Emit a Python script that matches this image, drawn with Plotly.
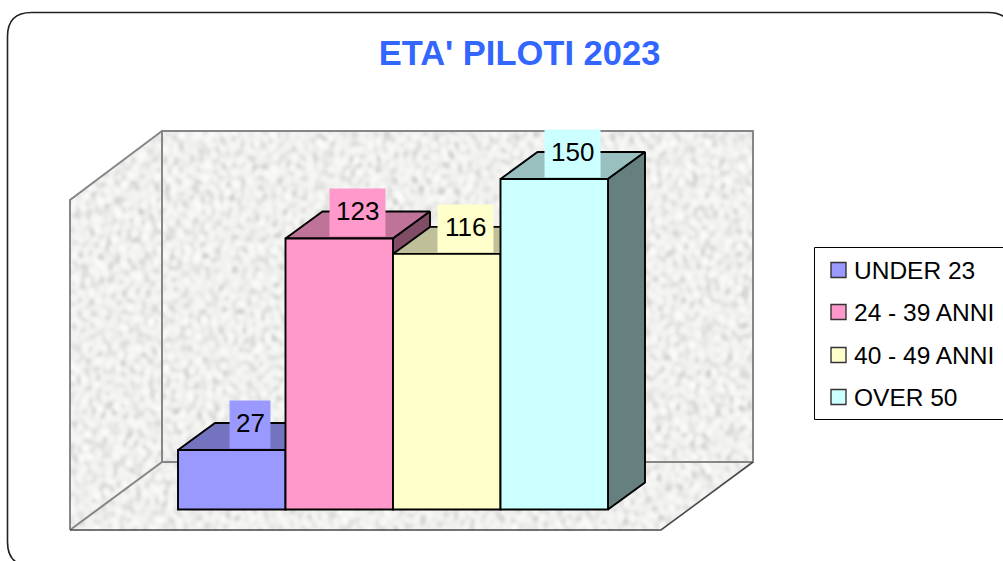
import base64, struct, zlib
import numpy as np
import plotly.graph_objects as go

# ---- data ----
CATEGORIES = ["UNDER 23", "24 - 39 ANNI", "40 - 49 ANNI", "OVER 50"]
VALUES = [27, 123, 116, 150]
TITLE = "ETA' PILOTI 2023"
COLORS = [(153, 153, 255), (255, 153, 204), (255, 255, 204), (204, 255, 255)]

# ---- layout constants (pixels of the 1003x561 page) ----
W, H = 1003, 561
BASE_Y = 509.5
PX_PER_UNIT = (509.5 - 179) / 150
BAR_W = 107.5
FIRST_CX = 231.75
DEPTH_PX = (37, 27)
DX = DEPTH_PX[0] / BAR_W
DY = DEPTH_PX[1] / PX_PER_UNIT
LINE = 1.9


def rgb(c, k=1.0):
    return "rgb(%d,%d,%d)" % tuple(round(v * k) for v in c)


def px(x, y):
    return x / W, 1 - y / H


def path(points, close=True):
    out = []
    for i, (x, y) in enumerate(points):
        fx, fy = px(x, y)
        out.append(("M" if i == 0 else "L") + f"{fx:.5f},{fy:.5f}")
    return " ".join(out) + (" Z" if close else "")


def texture_png(w, h):
    """Deterministic mottled stone background for the chart walls."""
    yy, xx = np.mgrid[0:h, 0:w]
    phi = 0.6180339887
    n = np.zeros((h, w))
    for k in range(1, 201):
        ang = 2 * np.pi * ((k * phi) % 1)
        freq = 0.025 + 0.085 * ((k * 0.7548776662) % 1)
        phase = 2 * np.pi * ((k * 0.5698402910) % 1)
        n += np.sin(2 * np.pi * freq * (xx * np.cos(ang) * 1.15 + yy * np.sin(ang)) + phase)
    n /= n.std()
    g = np.where(n > 0, 240 + 4 * n, 240 + 8 * n)
    g = np.clip(g, 214, 250)
    arr = np.stack([g, g, g - 1], axis=-1).astype(np.uint8)
    raw = b"".join(b"\x00" + arr[r].tobytes() for r in range(h))

    def chunk(t, d):
        return struct.pack(">I", len(d)) + t + d + struct.pack(">I", zlib.crc32(t + d))

    png = (b"\x89PNG\r\n\x1a\n" + chunk(b"IHDR", struct.pack(">IIBBBBB", w, h, 8, 2, 0, 0, 0))
           + chunk(b"IDAT", zlib.compress(raw, 9)) + chunk(b"IEND", b""))
    return "data:image/png;base64," + base64.b64encode(png).decode()


fig = go.Figure()
positions = list(range(len(VALUES)))

for i, (pos, val, col) in enumerate(zip(positions, VALUES, COLORS)):
    l, r = pos - 0.5, pos + 0.5
    # top face
    fig.add_trace(go.Scatter(
        x=[l, r, r + DX, l + DX, l], y=[val, val, val + DY, val + DY, val],
        mode="lines", fill="toself", fillcolor=rgb(col, 0.75),
        line=dict(color="black", width=LINE), hoverinfo="skip", showlegend=False, zorder=3 * i))
    # side face
    fig.add_trace(go.Scatter(
        x=[r, r + DX, r + DX, r, r], y=[0, DY, val + DY, val, 0],
        mode="lines", fill="toself", fillcolor=rgb(col, 0.5),
        line=dict(color="black", width=LINE), hoverinfo="skip", showlegend=False, zorder=3 * i + 1))
    # front face
    fig.add_trace(go.Bar(
        x=[pos], y=[val], width=1, name=CATEGORIES[i],
        marker=dict(color=rgb(col), line=dict(color="black", width=LINE)),
        showlegend=False, zorder=3 * i + 2))

# data labels: coloured box, then the number a little above the box centre
for pos, val, col in zip(positions, VALUES, COLORS):
    txt = str(val)
    fig.add_annotation(
        x=pos + DX / 2, y=val, xref="x", yref="y", text=" ", showarrow=False,
        xanchor="center", yanchor="bottom", yshift=1,
        width=40 if len(txt) == 2 else 55, height=47, bgcolor=rgb(col), borderpad=0,
        font=dict(family="Liberation Sans", size=26, color="black"))
    fig.add_annotation(
        x=pos + DX / 2, y=val, xref="x", yref="y", text=txt, showarrow=False,
        xanchor="center", yanchor="middle", yshift=27, borderpad=0,
        font=dict(family="Liberation Sans", size=26, color="black"))

gray = "#868686"
dark = "#4a4a4a"
P = dict(xref="paper", yref="paper", layer="below")
shapes = [
    # corners outside the perspective walls
    dict(type="path", path=path([(68, 129), (162, 129), (162, 131), (70, 200), (68, 200)]),
         fillcolor="white", line=dict(width=0), **P),
    dict(type="path", path=path([(661, 530), (753, 462), (755, 462), (755, 532), (661, 532)]),
         fillcolor="white", line=dict(width=0), **P),
    # back wall
    dict(type="path", path=path([(162, 131), (753, 131), (753, 462), (162, 462)]),
         line=dict(color=gray, width=2), **P),
    # side wall
    dict(type="path", path=path([(70, 530), (70, 200), (162, 131)], close=False),
         line=dict(color=gray, width=2), **P),
    # floor
    dict(type="path", path=path([(70, 530), (162, 462)], close=False),
         line=dict(color=gray, width=2), **P),
    dict(type="path", path=path([(70, 530), (661, 530), (753, 462)], close=False),
         line=dict(color=dark, width=1.6), **P),
]

# rounded chart border running off the page on the right and below
L, T, R, B, RAD = 7.5, 12.5, 1012, 566, 24
corner = [
    ("M", (L + RAD, T)), ("L", (R - RAD, T)), ("Q", (R, T), (R, T + RAD)),
    ("L", (R, B - RAD)), ("Q", (R, B), (R - RAD, B)), ("L", (L + RAD, B)),
    ("Q", (L, B), (L, B - RAD)), ("L", (L, T + RAD)), ("Q", (L, T), (L + RAD, T)),
]
p = ""
for seg in corner:
    p += seg[0] + " ".join("%.5f,%.5f" % px(*c) for c in seg[1:]) + " "
shapes.append(dict(type="path", xref="paper", yref="paper", path=p + "Z",
                   line=dict(color="#222222", width=1.6), layer="above"))

# legend box and swatches
shapes.append(dict(type="rect", xref="paper", yref="paper",
                   x0=px(814.5, 0)[0], x1=px(1010, 0)[0], y0=px(0, 419.5)[1], y1=px(0, 247.5)[1],
                   line=dict(color="black", width=1), fillcolor="white", layer="above"))
ROW_Y = [270, 312, 355, 397]
for name, col, y in zip(CATEGORIES, COLORS, ROW_Y):
    fx0, fy0 = px(831, y - 7.5)
    fx1, fy1 = px(846, y + 7.5)
    shapes.append(dict(type="rect", xref="paper", yref="paper", x0=fx0, x1=fx1, y0=fy1, y1=fy0,
                       fillcolor=rgb(col), line=dict(color="#333333", width=1.4), layer="above"))
    ax, ay = px(853, y + 0.5)
    fig.add_annotation(x=ax, y=ay, xref="paper", yref="paper", text=name, showarrow=False,
                       xanchor="left", yanchor="middle", borderpad=0,
                       font=dict(family="Liberation Sans", size=24.5, color="black"))

tx, ty = px(519.5, 53)
fig.update_layout(
    width=W, height=H, margin=dict(l=0, r=0, t=0, b=0),
    paper_bgcolor="white", plot_bgcolor="rgba(0,0,0,0)",
    barmode="overlay", showlegend=False,
    title=dict(text=TITLE, x=tx, y=ty, xref="paper", yref="paper", xanchor="center", yanchor="middle",
               font=dict(family="Liberation Sans", size=34.5, color="#3366FF", weight="bold")),
    xaxis=dict(visible=False, range=[(0 - FIRST_CX) / BAR_W, (W - FIRST_CX) / BAR_W], fixedrange=True),
    yaxis=dict(visible=False, range=[(BASE_Y - H) / PX_PER_UNIT, BASE_Y / PX_PER_UNIT], fixedrange=True),
    shapes=shapes,
    images=[dict(source=texture_png(684, 400), xref="paper", yref="paper",
                 x=px(70, 0)[0], y=px(0, 131)[1], sizex=684 / W, sizey=400 / H,
                 xanchor="left", yanchor="top", sizing="stretch", layer="below")],
)

fig.write_html("out.html", config=dict(displayModeBar=False),
               post_script="document.body.style.margin='0';document.body.style.overflow='hidden';")
